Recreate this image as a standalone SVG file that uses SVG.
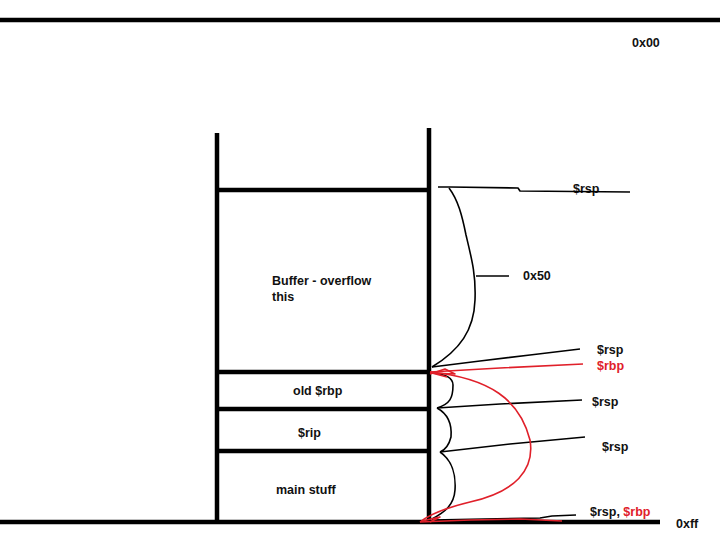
<svg xmlns="http://www.w3.org/2000/svg" width="720" height="556" viewBox="0 0 720 556">
<style>
.t{font-family:"Liberation Sans",Arial,sans-serif;font-size:12.5px;font-weight:bold;fill:#111}
.r{fill:#e0202a}
.thick{stroke:#000;stroke-width:4.5;fill:none}
.thin{stroke:#000;stroke-width:1.6;fill:none;stroke-linejoin:round}
.red{stroke:#e0202a;stroke-width:1.6;fill:none;stroke-linejoin:round}
</style>
<rect width="720" height="556" fill="#fff"/>
<g id="frame">
<line class="thick" x1="0" y1="20" x2="720" y2="20"/>
<line class="thick" x1="0" y1="522" x2="660" y2="522" stroke-width="5"/>
</g>
<g id="stack">
<line class="thick" x1="217" y1="133" x2="217" y2="522"/>
<line class="thick" x1="429" y1="128" x2="429" y2="522"/>
<line class="thick" x1="217" y1="190" x2="429" y2="190"/>
<line class="thick" x1="217" y1="372" x2="429" y2="372"/>
<line class="thick" x1="217" y1="409" x2="429" y2="409"/>
<line class="thick" x1="217" y1="451" x2="429" y2="451"/>
</g>
<g id="labels">
<text class="t" x="632" y="47">0x00</text>
<text class="t" x="272" y="285">Buffer - overflow</text>
<text class="t" x="272" y="301">this</text>
<text class="t" x="293" y="395">old $rbp</text>
<text class="t" x="298" y="437">$rip</text>
<text class="t" x="276" y="494">main stuff</text>
<text class="t" x="573" y="193">$rsp</text>
<text class="t" x="523" y="280">0x50</text>
<text class="t" x="597" y="354">$rsp</text>
<text class="t r" x="597" y="370">$rbp</text>
<text class="t" x="592" y="406">$rsp</text>
<text class="t" x="602" y="451">$rsp</text>
<text class="t" x="590" y="516">$rsp, <tspan class="r">$rbp</tspan></text>
<text class="t" x="676" y="528">0xff</text>
</g>
<g id="connectors">
<polyline class="thin" points="438,187 450,187 518,188 520,191 630,192"/>
<path class="thin" d="M449,188 C458,200 462,215 466,235 C472,260 476,275 475,300 C474,330 460,350 432,367"/>
<line class="thin" x1="476" y1="276" x2="509" y2="276"/>
<polyline class="thin" points="432,367 480,361 530,355 580,349"/>
<path class="thin" d="M432,373 C445,374 453,377 453,385 C453,398 450,404 437,408"/>
<polyline class="thin" points="437,408 500,404 582,400"/>
<path class="thin" d="M437,408 C448,414 452,425 451,437 C449,445 445,450 440,452"/>
<polyline class="thin" points="440,452 510,444 585,437"/>
<path class="thin" d="M440,452 C452,460 456,475 455,490 C454,505 445,512 432,519"/>
<polyline class="thin" points="432,520 540,518 552,516 576,515"/>
<path class="red" d="M430,372 C490,378 520,400 530,440 C535,470 515,492 470,502 C445,508 430,514 420,522"/>
<polyline class="red" points="430,372 500,368 583,364"/>
<polyline class="red" points="430,374 445,369 455,374 432,373 447,377"/>
<polyline class="red" points="420,522 470,520 520,519 562,521"/>
<polyline class="red" points="422,521 440,517 430,522"/>
</g>
</svg>
